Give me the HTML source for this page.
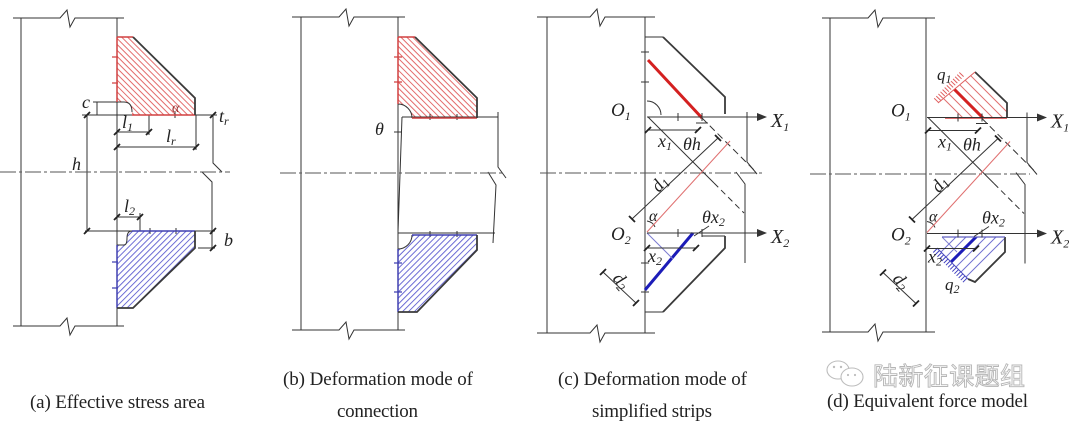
<!DOCTYPE html>
<html><head><meta charset="utf-8"><style>
html,body{margin:0;padding:0;background:#fff;}
svg{display:block;}
.l{stroke:#333;stroke-width:1;fill:none}
.k{stroke:#3a3a3a;stroke-width:1.8;fill:none}
.tk{stroke:#222;stroke-width:1.8;fill:none}
.cl{stroke:#555;stroke-width:1;stroke-dasharray:16 3 3 3;fill:none}
.m{font-family:"Liberation Serif",serif;font-style:italic;fill:#222;font-size:18px}
.s{font-size:12px}
.cap{font-family:"Liberation Serif",serif;fill:#222;font-size:19px}
</style></head><body>
<svg width="1080" height="426" viewBox="0 0 1080 426" xmlns="http://www.w3.org/2000/svg">
<defs>
<pattern id="hr" patternUnits="userSpaceOnUse" width="4.2" height="4.2" patternTransform="rotate(-45)"><line x1="1" y1="0" x2="1" y2="4.2" stroke="#e05a5a" stroke-width="0.9"/></pattern>
<pattern id="hb" patternUnits="userSpaceOnUse" width="4.2" height="4.2" patternTransform="rotate(45)"><line x1="1" y1="0" x2="1" y2="4.2" stroke="#5a5ad0" stroke-width="0.9"/></pattern>
<clipPath id="cq1"><polygon points="938,103 975,72 1007,103 1007,118 945,118"/></clipPath>
<clipPath id="cq2"><polygon points="942,237 1005,237 1005,252 975,282 968,279 937,248"/></clipPath>
</defs>

<!-- ================= Panel (a) ================= -->
<g class="l">
<path d="M13,18 H60 L67,10 L70,27 L75,18 H124"/>
<path d="M13,326 H60 L67,318 L70,335 L75,326 H124"/>
<path d="M21,18 V326 M117,18 V326"/>
</g>
<path d="M117,37 H133 L195,98 V115 H132 Q132,102 124,102 H117 Z" fill="url(#hr)"/>
<path d="M132,231 H195 V248 L133,308 H117 V245 H124 Q127,245 127,238 Q127,231 132,231 Z" fill="url(#hb)"/>
<g class="l">
<path d="M82,115 H217"/>
<path d="M85,231 H215"/>
<path d="M93,102 H124 Q132,102 132,112"/>
<path d="M97,102 V115"/>
<path d="M87,115 V231"/>
<path d="M213,115 V163 L222,172 M202,172 L212,182 V248"/>
<path d="M198,248 H215"/>
<path d="M117,132 H149 M149,115 V135"/>
<path d="M117,147 H196 M196,115 V150"/>
<path d="M117,217 H140 M140,213 V231"/>
<path d="M117,245 H124 Q127,245 127,238 Q127,231 132,231"/>
<path d="M175,112 V118 M150,228 V234 M176,228 V234"/>
</g>
<path d="M117,37 V102 M117,37 H133 M132,115 H195" stroke="#d04040" stroke-width="1.5" fill="none"/>
<path d="M132,231 H195 M117,245 V308" stroke="#4040b0" stroke-width="1.5" fill="none"/>
<path d="M133,37 L195,98 V115 M195,231 V248 L133,308 H117" class="k"/>
<path d="M112,57 H118 M112,83 H118" stroke="#d04040" stroke-width="1.2"/>
<path d="M112,262 H118 M112,288 H118" stroke="#4040b0" stroke-width="1.2"/>
<path class="tk" d="M84,118 L90,112 M84,234 L90,228 M210,118 L216,112 M210,234 L216,228 M210,251 L216,245 M114,135 L120,129 M146,135 L152,129 M114,150 L120,144 M193,150 L199,144 M114,220 L120,214 M137,220 L143,214"/>
<path class="cl" d="M0,172 H230"/>
<text x="82" y="108" class="m">c</text>
<text x="72" y="170" class="m">h</text>
<text x="224" y="246" class="m">b</text>
<text x="219" y="122" class="m">t<tspan class="s" dy="3">r</tspan></text>
<text x="122" y="128" class="m">l<tspan class="s" dy="3">1</tspan></text>
<text x="166" y="142" class="m">l<tspan class="s" dy="3">r</tspan></text>
<text x="124" y="212" class="m">l<tspan class="s" dy="3">2</tspan></text>
<text x="172" y="112" class="m" style="font-size:14px;fill:#933">α</text>

<!-- ================= Panel (b) ================= -->
<path d="M398,37 H415 L477,98 V118 H412 A14,14 0 0 0 398,104 Z" fill="url(#hr)"/>
<path d="M412,235 H477 V250 L417,312 H398 V249 A14,14 0 0 0 412,235 Z" fill="url(#hb)"/>
<g class="l">
<path d="M292,17 H339 L346,9 L349,26 L354,17 H405"/>
<path d="M292,330 H339 L346,322 L349,339 L354,330 H405"/>
<path d="M301,17 V330 M398,17 V330"/>
<path d="M402,117 H498 M402,117 L398,232 M398,233 H495"/>
<path d="M498,112 V167 L506,178 M488,172 L496,185 L493,243"/>
<path d="M412,118 A14,14 0 0 0 398,104"/>
<path d="M398,249 A14,14 0 0 0 412,235"/>
<path d="M394,132 H402 M430,114 V120 M457,114 V120 M430,231 V237 M457,231 V237"/>
</g>
<path d="M398,37 V104 M398,37 H415 M412,118 H477" stroke="#d04040" stroke-width="1.5" fill="none"/>
<path d="M412,235 H477 M398,249 V312" stroke="#4040b0" stroke-width="1.5" fill="none"/>
<path d="M415,37 L477,98 V118 M477,235 V250 L417,312 H398" class="k"/>
<path d="M394,57 H402 M394,82 H402" stroke="#d04040" stroke-width="1.2"/>
<path d="M394,263 H402 M394,292 H402" stroke="#4040b0" stroke-width="1.2"/>
<path class="cl" d="M280,173 H505"/>
<text x="375" y="135" class="m">θ</text>

<!-- ================= Panel (c) ================= -->
<g class="l">
<path d="M537,17 H590 L597,9 L600,26 L605,17 H655"/>
<path d="M537,333 H590 L597,325 L600,342 L605,333 H655"/>
<path d="M547,17 V333 M645,17 V333"/>
<path d="M645,37 H663"/>
<path d="M647,101 A14,14 0 0 1 661,115"/>
<path d="M702,236 H725 M645,312 H663"/>
<path d="M641,52 H649 M641,82 H649 M641,263 H649 M641,292 H649"/>
</g>
<path d="M663,37 L725,97 V114 M725,236 V248 L663,312" class="k"/>
<path d="M648,60 L702,118" stroke="#d42020" stroke-width="3"/>
<path d="M645,290 L693,233" stroke="#1c1cb8" stroke-width="3"/>
<path d="M647,233 L673,259" stroke="#7a7ad0" stroke-width="1"/>
<path class="cl" d="M540,173 H762"/>

<!-- common (c) -->
<g>
<g class="l">
<path d="M647,117 H763"/>
<path d="M647,233 H763"/>
<path d="M648,130 H698"/>
<path d="M696,123 H708"/>
<path d="M648,117 L714,183"/>
<path d="M714,183 L744,213" stroke-dasharray="6 4"/>
<path d="M702,118 L756,172" stroke-dasharray="7 4"/>
<path d="M632,219 L718,138"/>
<path d="M647,248 H696"/>
<path d="M603,272 L636,303"/>
<path d="M709,226 L694,236"/>
<path d="M747,112 V162 L757,174 M736,172 L745,184 V263"/>
<path d="M647,221 Q653,222 655,227"/>
<path d="M678,113 V121 M702,113 V121 M678,229 V237 M702,229 V237"/>
</g>
<path d="M757,113 L767,117 L757,121 Z M757,229 L767,233 L757,237 Z" fill="#333"/>
<path d="M647,232 L730,141" stroke="#e07070" stroke-width="1"/>
<path class="tk" d="M645,133 L651,127 M695,133 L701,127 M644,251 L650,245 M693,251 L699,245 M600,275 L606,269 M633,306 L639,300 M629,216 L635,222 M715,135 L721,141"/>
<text x="611" y="116" class="m" style="font-size:19px">O<tspan class="s" dy="4">1</tspan></text>
<text x="771" y="127" class="m" style="font-size:20px">X<tspan class="s" dy="4">1</tspan></text>
<text x="611" y="240" class="m" style="font-size:19px">O<tspan class="s" dy="4">2</tspan></text>
<text x="771" y="243" class="m" style="font-size:20px">X<tspan class="s" dy="4">2</tspan></text>
<text x="658" y="147" class="m">x<tspan class="s" dy="3">1</tspan></text>
<text x="683" y="150" class="m">θh</text>
<text class="m" transform="translate(659,193) rotate(-50)">d<tspan class="s" dy="3">1</tspan></text>
<text x="649" y="221" class="m" style="font-size:16px">α</text>
<text x="702" y="223" class="m">θx<tspan class="s" dy="3">2</tspan></text>
<text x="648" y="262" class="m">x<tspan class="s" dy="3">2</tspan></text>
<text class="m" transform="translate(612,279) rotate(48)">d<tspan class="s" dy="3">2</tspan></text>
</g>

<!-- ================= Panel (d) ================= -->
<g class="l">
<path d="M822,18 H868 L875,10 L878,27 L883,18 H935"/>
<path d="M822,332 H868 L875,324 L878,341 L883,332 H935"/>
<path d="M830,18 V332 M926,18 V332"/>
</g>
<path class="cl" d="M810,174 H1030"/>

<!-- upper block (d) -->
<g clip-path="url(#cq1)">
<path d="M920,75 L1020,175 M920,65 L1020,165 M920,45 L1020,145 M920,35 L1020,135 M920,25 L1020,125" stroke="#e07070" stroke-width="1"/>
<path d="M920,55 L1020,155" stroke="#d42020" stroke-width="3"/>
</g>
<path d="M975,72 L1007,103 V118" class="k"/>
<path d="M945,118 H1007" stroke="#d04040" stroke-width="1.5"/>
<path d="M938,103 L975,72" stroke="#e06060" stroke-width="1"/>
<path d="M936,100.7 L963,73" stroke="#e06060" stroke-width="6" stroke-dasharray="1 2"/>
<text x="937" y="80" class="m" style="font-size:17px">q<tspan class="s" dy="3">1</tspan></text>

<!-- lower block (d) -->
<g clip-path="url(#cq2)">
<path d="M920,273 L1020,173 M920,283 L1020,183 M920,303 L1020,203 M920,313 L1020,213 M920,323 L1020,223" stroke="#7070d0" stroke-width="1"/>
<path d="M920,293 L1020,193" stroke="#1c1cb8" stroke-width="3"/>
<path d="M942,237 L957,252" stroke="#8080d0" stroke-width="1"/>
</g>
<path d="M1005,237 V252 L975,282 L968,279" class="k"/>
<path d="M942,237 H1005" stroke="#6060c0" stroke-width="1.3"/>
<path d="M937,248 L968,279" stroke="#5050c0" stroke-width="1"/>
<path d="M935,250 L966,281" stroke="#4040c0" stroke-width="6" stroke-dasharray="1 2"/>
<text x="945" y="290" class="m" style="font-size:17px">q<tspan class="s" dy="3">2</tspan></text>

<!-- common (d) -->
<g transform="translate(280,0.5)">
<g class="l">
<path d="M647,117 H763"/>
<path d="M647,233 H763"/>
<path d="M648,130 H698"/>
<path d="M696,123 H708"/>
<path d="M648,117 L714,183"/>
<path d="M714,183 L744,213" stroke-dasharray="6 4"/>
<path d="M702,118 L756,172" stroke-dasharray="7 4"/>
<path d="M632,219 L718,138"/>
<path d="M647,248 H696"/>
<path d="M603,272 L636,303"/>
<path d="M709,226 L694,236"/>
<path d="M747,112 V162 L757,174 M736,172 L745,184 V263"/>
<path d="M647,221 Q653,222 655,227"/>
<path d="M678,113 V121 M702,113 V121 M678,229 V237 M702,229 V237"/>
</g>
<path d="M757,113 L767,117 L757,121 Z M757,229 L767,233 L757,237 Z" fill="#333"/>
<path d="M647,232 L730,141" stroke="#e07070" stroke-width="1"/>
<path class="tk" d="M645,133 L651,127 M695,133 L701,127 M644,251 L650,245 M693,251 L699,245 M600,275 L606,269 M633,306 L639,300 M629,216 L635,222 M715,135 L721,141"/>
<text x="611" y="116" class="m" style="font-size:19px">O<tspan class="s" dy="4">1</tspan></text>
<text x="771" y="127" class="m" style="font-size:20px">X<tspan class="s" dy="4">1</tspan></text>
<text x="611" y="240" class="m" style="font-size:19px">O<tspan class="s" dy="4">2</tspan></text>
<text x="771" y="243" class="m" style="font-size:20px">X<tspan class="s" dy="4">2</tspan></text>
<text x="658" y="147" class="m">x<tspan class="s" dy="3">1</tspan></text>
<text x="683" y="150" class="m">θh</text>
<text class="m" transform="translate(659,193) rotate(-50)">d<tspan class="s" dy="3">1</tspan></text>
<text x="649" y="221" class="m" style="font-size:16px">α</text>
<text x="702" y="223" class="m">θx<tspan class="s" dy="3">2</tspan></text>
<text x="648" y="262" class="m">x<tspan class="s" dy="3">2</tspan></text>
<text class="m" transform="translate(612,279) rotate(48)">d<tspan class="s" dy="3">2</tspan></text>
</g>

<!-- ================= Captions ================= -->
<text x="30" y="408" class="cap" textLength="175">(a) Effective stress area</text>
<text x="283" y="385" class="cap" textLength="190">(b) Deformation mode of</text>
<text x="337" y="417" class="cap" textLength="81">connection</text>
<text x="558" y="385" class="cap" textLength="189">(c) Deformation mode of</text>
<text x="592" y="417" class="cap" textLength="120">simplified strips</text>
<text x="827" y="407" class="cap" textLength="201">(d) Equivalent force model</text>

<!-- watermark -->
<g stroke="#bdbdbd" stroke-width="1.1" fill="#fff">
<ellipse cx="838" cy="370" rx="11" ry="9"/>
<ellipse cx="852" cy="377" rx="11" ry="9"/>
</g>
<g fill="#bdbdbd">
<circle cx="834" cy="367" r="1.2"/><circle cx="841" cy="367" r="1.2"/>
<circle cx="848" cy="375" r="1.1"/><circle cx="855" cy="375" r="1.1"/>
</g>
<text x="873" y="385" font-family="'Liberation Sans','Noto Sans CJK SC',sans-serif" font-size="25" fill="#fff" stroke="#b5b5b5" stroke-width="0.9" textLength="152">陆新征课题组</text>
</svg>
</body></html>
